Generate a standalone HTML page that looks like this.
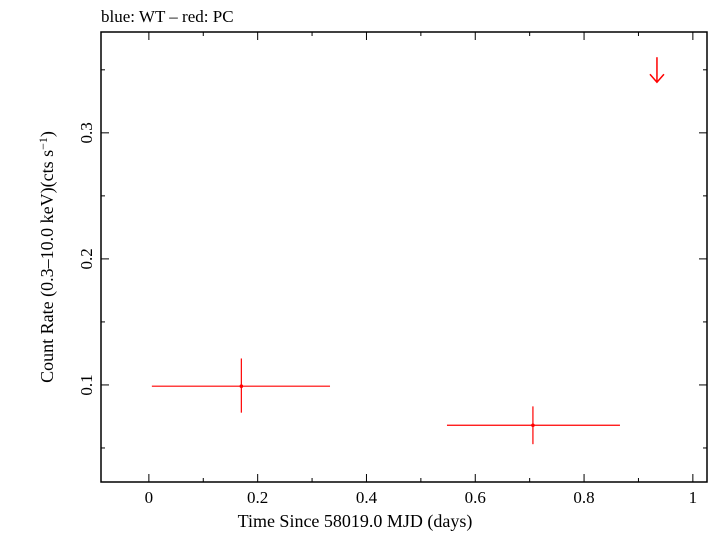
<!DOCTYPE html>
<html><head><meta charset="utf-8"><style>
body{margin:0;background:#fff;}
svg text{font-family:"Liberation Serif",serif;fill:#000;}
</style></head><body>
<svg id="chart" width="710" height="532" viewBox="0 0 710 532" xmlns="http://www.w3.org/2000/svg">
<text x="101" y="22" font-size="17">blue: WT – red: PC</text>
<rect x="101" y="32" width="606" height="450" fill="none" stroke="#000" stroke-width="1.5"/>
<g id="axes"></g>
<g id="marks"></g>
<text x="355" y="527" font-size="18" text-anchor="middle">Time Since 58019.0 MJD (days)</text>
<text transform="translate(53,257) rotate(-90)" font-size="18" text-anchor="middle">Count Rate (0.3–10.0 keV)(cts s<tspan dy="-6" font-size="12">−1</tspan><tspan dy="6">)</tspan></text>
</svg>
<script>
const xTicks=[0,0.2,0.4,0.6,0.8,1];
const xTickLabels=["0","0.2","0.4","0.6","0.8","1"];
const yTicks=[0.1,0.2,0.3];
const yTickLabels=["0.1","0.2","0.3"];
const pcTime=[0.17,0.706];
const pcTimeLo=[0.0055,0.548];
const pcTimeHi=[0.333,0.866];
const pcRate=[0.099,0.068];
const pcRateLo=[0.078,0.053];
const pcRateHi=[0.121,0.083];
const ulTime=[0.934];
const ulRate=[0.36];

const L=101,R=707,T=32,B=482;
const X0=-0.088,X1=1.026,Y0=0.023,Y1=0.380;
const sx=v=>L+(v-X0)/(X1-X0)*(R-L);
const sy=v=>B-(v-Y0)/(Y1-Y0)*(B-T);
const NS="http://www.w3.org/2000/svg";
function mk(tag,attrs,parent){const e=document.createElementNS(NS,tag);for(const k in attrs)e.setAttribute(k,attrs[k]);parent.appendChild(e);return e;}
const axes=document.getElementById('axes'),marks=document.getElementById('marks');
for(let i=0;i<=10;i++){const v=i/10;const x=sx(v);const len=i%2==0?8:4;
 const t1=mk('line',{x1:x,x2:x,y1:B,y2:B-len,stroke:'#000','stroke-width':1},axes);
 
 
 const t2=mk('line',{x1:x,x2:x,y1:T,y2:T+len,stroke:'#000','stroke-width':1},axes);
 
 }
xTicks.forEach((v,i)=>{const t=mk('text',{x:sx(v),y:503,'font-size':17,'text-anchor':'middle'},axes);t.textContent=xTickLabels[i];
 
 });
for(let i=1;i<=7;i++){const v=i*0.05;const y=sy(v);const len=i%2==0?8:4;
 const t1=mk('line',{x1:L,x2:L+len,y1:y,y2:y,stroke:'#000','stroke-width':1},axes);
 
 
 const t2=mk('line',{x1:R,x2:R-len,y1:y,y2:y,stroke:'#000','stroke-width':1},axes);
 
 }
yTicks.forEach((v,i)=>{const t=mk('text',{transform:`translate(92,${sy(v)}) rotate(-90)`,'font-size':17,'text-anchor':'middle'},axes);t.textContent=yTickLabels[i];
 
 });
pcTime.forEach((t,i)=>{
 const g=mk('g',{},marks);
 
 
 mk('line',{x1:sx(pcTimeLo[i]),x2:sx(pcTimeHi[i]),y1:sy(pcRate[i]),y2:sy(pcRate[i]),stroke:'#f00','stroke-width':1.2},g);
 mk('line',{x1:sx(t),x2:sx(t),y1:sy(pcRateLo[i]),y2:sy(pcRateHi[i]),stroke:'#f00','stroke-width':1.2},g);
 mk('circle',{cx:sx(t),cy:sy(pcRate[i]),r:1.8,fill:'#f00'},g);
});
ulTime.forEach((t,i)=>{
 const g=mk('g',{},marks);
 
 
 const x=sx(t),y=sy(ulRate[i]);
 mk('line',{x1:x,x2:x,y1:y,y2:y+25,stroke:'#f00','stroke-width':1.5},g);
 mk('polyline',{points:`${x-7},${y+17} ${x},${y+25} ${x+7},${y+17}`,fill:'none',stroke:'#f00','stroke-width':1.5},g);
});
</script>
</body></html>
